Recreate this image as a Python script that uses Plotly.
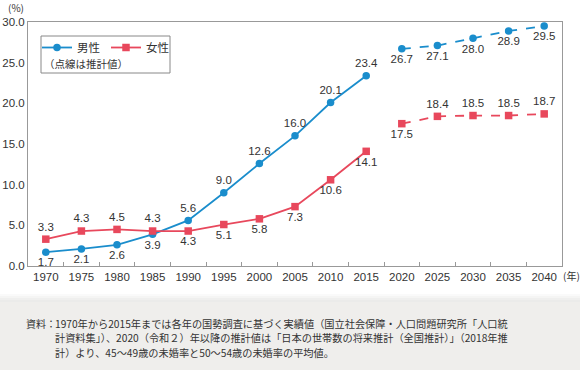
import plotly.graph_objects as go

years_actual = ["1970", "1975", "1980", "1985", "1990", "1995", "2000", "2005", "2010", "2015"]
years_proj = ["2020", "2025", "2030", "2035", "2040"]
all_years = years_actual + years_proj

men_actual = [1.7, 2.1, 2.6, 3.9, 5.6, 9.0, 12.6, 16.0, 20.1, 23.4]
women_actual = [3.3, 4.3, 4.5, 4.3, 4.3, 5.1, 5.8, 7.3, 10.6, 14.1]
men_proj = [26.7, 27.1, 28.0, 28.9, 29.5]
women_proj = [17.5, 18.4, 18.5, 18.5, 18.7]

men_actual_pos = ["bottom center"] * 4 + ["top center"] * 6
women_actual_pos = ["top center"] * 4 + ["bottom center"] * 6
men_proj_pos = ["bottom center"] * 5
women_proj_pos = ["bottom center"] + ["top center"] * 4

source_lines = [
    "1970年から2015年までは各年の国勢調査に基づく実績値（国立社会保障・人口問題研究所「人口統",
    "計資料集」）、2020（令和２）年以降の推計値は「日本の世帯数の将来推計（全国推計）」（2018年推",
    "計）より、45～49歳の未婚率と50～54歳の未婚率の平均値。",
]

BLUE = "#1a8dcc"
RED = "#e8485c"
TXT = "#333333"
LAB = dict(family="Liberation Sans, Arial, sans-serif", size=11.5, color=TXT)
JP = "Noto Sans CJK JP, sans-serif"

fig = go.Figure()

def add(x, y, pos, color, symbol, name, dash, legend):
    fig.add_trace(go.Scatter(
        x=x, y=y, mode="lines+markers+text", name=name,
        text=[f"{v:.1f}" for v in y], textposition=pos, textfont=LAB,
        line=dict(color=color, width=1.8, dash=dash),
        marker=dict(color=color, size=7.5, symbol=symbol),
        showlegend=legend, cliponaxis=False,
    ))

add(years_actual, men_actual, men_actual_pos, BLUE, "circle", "男性", "solid", True)
add(years_actual, women_actual, women_actual_pos, RED, "square", "女性", "solid", True)
add(years_proj, men_proj, men_proj_pos, BLUE, "circle", "男性（推計）", "dash", False)
add(years_proj, women_proj, women_proj_pos, RED, "square", "女性（推計）", "dash", False)

# paper coords: y=0 -> 266px, 1 -> 22px (244px per unit); x=0 -> 28px, 1 -> 562px
def py(px):
    return (266 - px) / 244.0
def px_x(px):
    return (px - 28) / 534.0

shapes = []
shades = ["#fafafa", "#f5f5f4", "#efefee", "#ebebea"]
for i, c in enumerate(shades):
    shapes.append(dict(type="rect", xref="paper", yref="paper",
                       x0=px_x(0), x1=px_x(580), y0=py(294 + i * 2), y1=py(296 + i * 2),
                       fillcolor=c, line=dict(width=0), layer="below"))
shapes.append(dict(type="rect", xref="paper", yref="paper",
                   x0=px_x(0), x1=px_x(580), y0=py(302), y1=py(372),
                   fillcolor="#efeeec", line=dict(width=0), layer="below"))
# legend box
shapes.append(dict(type="rect", xref="paper", yref="paper",
                   x0=px_x(41), x1=px_x(170), y0=py(36), y1=py(73),
                   fillcolor="white", line=dict(color="#888888", width=1), layer="below"))

annotations = [
    dict(text="(%)", xref="paper", yref="paper", x=px_x(6), y=py(7), xanchor="left", yanchor="middle",
         showarrow=False, font=dict(family=JP, size=10, color=TXT)),
    dict(text="(年)", xref="paper", yref="paper", x=px_x(561), y=py(275), xanchor="left", yanchor="middle",
         showarrow=False, font=dict(family=JP, size=10, color=TXT)),
    dict(text="（点線は推計値）", xref="paper", yref="paper", x=px_x(42), y=py(63), xanchor="left", yanchor="middle",
         showarrow=False, font=dict(family=JP, size=10.5, color=TXT)),
    dict(text="資料：", xref="paper", yref="paper", x=px_x(24), y=py(323), xanchor="left", yanchor="middle",
         showarrow=False, font=dict(family=JP, size=10, color=TXT)),
]
for i, line in enumerate(source_lines):
    annotations.append(dict(text=line, xref="paper", yref="paper", x=px_x(53), y=py(323 + 14.5 * i),
                            xanchor="left", yanchor="middle", align="left", showarrow=False,
                            font=dict(family=JP, size=10.2, color=TXT)))

fig.update_layout(
    width=580, height=370,
    margin=dict(l=28, r=18, t=22, b=104, autoexpand=False),
    paper_bgcolor="white", plot_bgcolor="white",
    font=dict(family="Liberation Sans, Arial, sans-serif", size=11.5, color=TXT),
    showlegend=True,
    legend=dict(orientation="h", x=px_x(37), y=py(33), xanchor="left", yanchor="top",
                bgcolor="rgba(0,0,0,0)", borderwidth=0, entrywidth=24, entrywidthmode="pixels",
                font=dict(family=JP, size=11.5, color=TXT), itemwidth=30, tracegroupgap=0),
    shapes=shapes, annotations=annotations,
    xaxis=dict(type="category", categoryorder="array", categoryarray=all_years, automargin=False,
               range=[-0.5, 14.5], showline=True, linecolor="#999999", linewidth=1, mirror=True,
               ticks="inside", tickson="boundaries", ticklen=4, tickcolor="#999999",
               showgrid=False, tickfont=dict(size=11.5, color=TXT)),
    yaxis=dict(range=[0, 30], dtick=5, tickformat=".1f", showline=True, linecolor="#999999",
               linewidth=1, mirror=True, showgrid=False, zeroline=False, ticks="", automargin=False,
               tickfont=dict(size=11.5, color=TXT)),
)

fig.write_html("out.html", config={"displayModeBar": False},
               post_script="document.body.style.margin='0';document.body.style.padding='0';")
